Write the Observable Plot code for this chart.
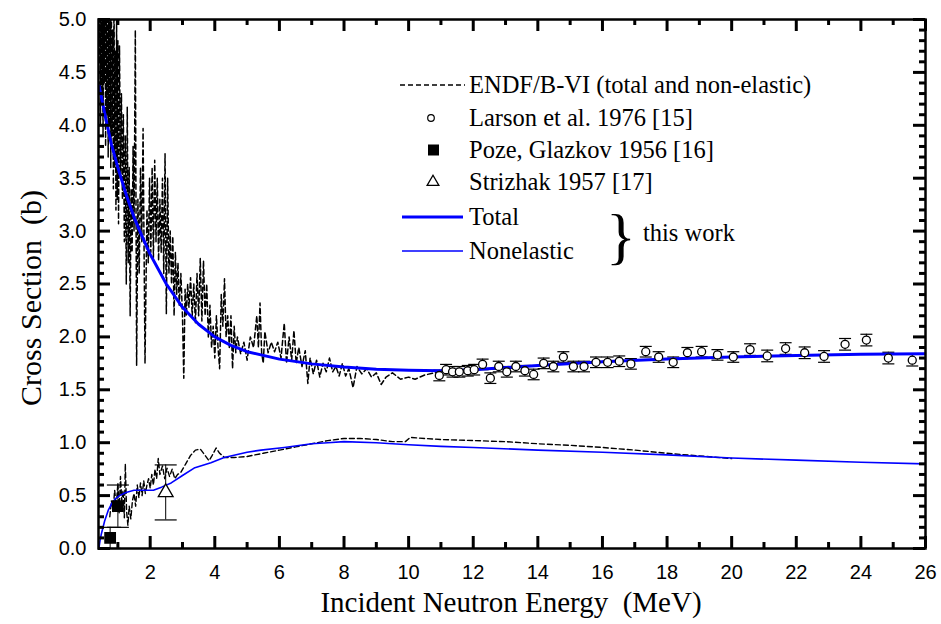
<!DOCTYPE html>
<html><head><meta charset="utf-8">
<script src="https://cdn.jsdelivr.net/npm/d3@7"></script>
<script src="https://cdn.jsdelivr.net/npm/@observablehq/plot@0.6"></script>
<style>body{margin:0;background:#fff}</style>
</head><body><div id="chart"></div>
<script>
// ---- axis ticks ----
const xMajor = [2,4,6,8,10,12,14,16,18,20,22,24,26];
const xMinor = [1,3,5,7,9,11,13,15,17,19,21,23,25];
const yMajor = [0,0.5,1,1.5,2,2.5,3,3.5,4,4.5,5];
const yMinor = [0.1,0.2,0.3,0.4,0.6,0.7,0.8,0.9,1.1,1.2,1.3,1.4,1.6,1.7,1.8,1.9,2.1,2.2,2.3,2.4,2.6,2.7,2.8,2.9,3.1,3.2,3.3,3.4,3.6,3.7,3.8,3.9,4.1,4.2,4.3,4.4,4.6,4.7,4.8,4.9];

// ---- ENDF/B-VI total (dashed) [E MeV, sigma b] ----
const endfTotal = [[0.42,4.6],[0.44,5.3],[0.46,4.0],[0.48,5.3],[0.50,4.3],[0.52,5.3],[0.54,3.9],[0.56,5.3],[0.58,4.4],[0.60,5.3],[0.62,3.8],[0.64,5.3],[0.66,4.1],[0.68,5.3],[0.70,3.7],[0.72,5.3],[0.74,4.0],[0.76,5.3],[0.78,3.6],[0.80,5.1],[0.82,3.9],[0.84,4.9],[0.86,3.4],[0.88,5.3],[0.90,3.6],[0.92,4.7],[0.94,3.2],[0.96,5.0],[0.98,3.3],[1.00,4.8],[1.02,3.07],[1.05,4.75],[1.08,3.5],[1.11,4.3],[1.14,3.3],[1.17,4.1],[1.20,2.9],[1.23,3.9],[1.26,2.5],[1.29,4.17],[1.32,2.7],[1.35,3.6],[1.38,2.2],[1.41,3.4],[1.44,2.8],[1.47,3.8],[1.50,3.0],[1.54,4.9],[1.58,1.73],[1.62,3.3],[1.66,2.6],[1.70,3.6],[1.74,2.9],[1.78,3.97],[1.84,1.75],[1.90,3.2],[1.94,2.7],[1.98,3.5],[2.02,2.8],[2.06,3.6],[2.10,2.75],[2.14,3.67],[2.18,2.9],[2.22,3.5],[2.26,2.72],[2.30,3.3],[2.34,2.8],[2.38,3.5],[2.42,2.6],[2.46,3.73],[2.50,2.22],[2.54,3.5],[2.58,2.6],[2.62,3.0],[2.66,2.5],[2.70,2.95],[2.74,2.2],[2.78,2.8],[2.82,2.4],[2.86,2.7],[2.90,2.3],[2.95,2.6],[3.00,2.2],[3.04,1.61],[3.08,2.45],[3.12,2.2],[3.16,2.5],[3.20,2.28],[3.25,2.56],[3.30,2.2],[3.35,2.5],[3.40,2.13],[3.45,2.6],[3.50,2.2],[3.55,2.74],[3.60,2.15],[3.65,2.72],[3.70,2.2],[3.75,2.5],[3.80,2.0],[3.85,2.3],[3.90,1.9],[3.95,2.1],[4.00,1.8],[4.05,2.2],[4.10,1.9],[4.15,1.70],[4.20,2.4],[4.25,2.1],[4.30,2.55],[4.35,2.0],[4.40,2.2],[4.45,1.9],[4.50,2.2],[4.55,1.7],[4.60,2.1],[4.65,1.85],[4.70,2.0],[4.80,1.84],[4.90,1.95],[5.00,1.78],[5.10,2.0],[5.20,1.9],[5.30,2.2],[5.35,1.9],[5.40,2.32],[5.45,1.85],[5.50,1.75],[5.55,2.05],[5.65,1.85],[5.75,1.95],[5.85,1.86],[5.95,1.95],[6.05,1.8],[6.15,2.13],[6.22,1.75],[6.30,2.0],[6.38,1.78],[6.45,2.06],[6.52,1.75],[6.60,1.9],[6.70,1.72],[6.80,1.87],[6.88,1.56],[6.95,1.8],[7.05,1.65],[7.15,1.78],[7.25,1.62],[7.35,1.75],[7.45,1.67],[7.55,1.8],[7.65,1.67],[7.75,1.72],[7.85,1.63],[7.95,1.75],[8.05,1.63],[8.15,1.70],[8.28,1.52],[8.40,1.72],[8.55,1.65],[8.70,1.70],[8.85,1.62],[9.00,1.66],[9.15,1.55],[9.30,1.62],[9.50,1.66],[9.75,1.60],[10.0,1.62],[10.2,1.60],[10.5,1.64],[10.8,1.66],[11.2,1.68],[12,1.69],[13,1.70],[14,1.73],[15,1.75],[16,1.77],[17,1.78],[18,1.79],[19,1.80],[20,1.81]];

// ---- ENDF/B-VI non-elastic (dashed) ----
const endfNonel = [[0.75,0.30],[0.80,0.45],[0.85,0.35],[0.90,0.55],[0.95,0.40],[1.00,0.62],[1.04,0.33],[1.08,0.68],[1.12,0.45],[1.16,0.55],[1.20,0.29],[1.23,0.80],[1.27,0.35],[1.31,0.22],[1.35,0.40],[1.40,0.28],[1.45,0.45],[1.50,0.52],[1.55,0.40],[1.60,0.60],[1.65,0.48],[1.70,0.62],[1.75,0.50],[1.80,0.64],[1.85,0.52],[1.90,0.60],[1.95,0.66],[2.00,0.57],[2.05,0.70],[2.10,0.60],[2.15,0.75],[2.20,0.66],[2.25,0.85],[2.30,0.70],[2.38,0.78],[2.45,0.66],[2.52,0.76],[2.60,0.68],[2.68,0.75],[2.76,0.66],[2.85,0.70],[2.95,0.72],[3.10,0.80],[3.25,0.88],[3.40,0.93],[3.55,0.94],[3.70,0.88],[3.82,0.83],[3.92,0.88],[4.04,0.95],[4.15,0.90],[4.30,0.86],[4.60,0.86],[5.00,0.87],[5.50,0.90],[6.00,0.93],[6.50,0.96],[7.00,0.99],[7.50,1.02],[8.00,1.04],[8.50,1.04],[9.00,1.03],[9.50,1.01],[9.90,1.01],[10.05,1.05],[10.5,1.04],[11,1.03],[12,1.02],[13,1.01],[14,0.99],[15,0.975],[16,0.955],[17,0.93],[18,0.90],[19,0.875],[20,0.85]];

// ---- this work ----
const workTotal = [[0.42,4.37],[0.6,4.1],[0.8,3.82],[1.0,3.6],[1.25,3.35],[1.5,3.13],[1.75,2.95],[2.0,2.78],[2.5,2.5],[3.0,2.28],[3.5,2.12],[4.0,2.0],[4.5,1.92],[5.0,1.86],[6.0,1.79],[7.0,1.745],[8.0,1.715],[9.0,1.695],[10.0,1.685],[11,1.68],[12,1.69],[14,1.73],[16,1.765],[18,1.79],[20,1.81],[22,1.825],[24,1.835],[26,1.84]];
const workNonel = [[0.41,0.0],[0.45,0.08],[0.49,0.14],[0.59,0.26],[0.70,0.36],[0.80,0.42],[0.92,0.47],[1.05,0.50],[1.25,0.53],[1.50,0.55],[1.80,0.55],[2.10,0.55],[2.35,0.58],[2.65,0.62],[3.0,0.69],[3.36,0.76],[3.88,0.81],[4.29,0.86],[5.0,0.91],[5.43,0.93],[6.15,0.955],[7.0,0.99],[7.5,1.0],[8.0,1.01],[9.0,1.0],[10.0,0.98],[11,0.965],[12,0.955],[14,0.93],[16,0.91],[18,0.885],[20,0.855],[22,0.835],[24,0.815],[26,0.80]];

// ---- experiments: [E, sigma, error] ----
const larson = [[10.95,1.635,0.05],[11.16,1.69,0.05],[11.36,1.67,0.05],[11.57,1.67,0.05],[11.83,1.68,0.05],[12.03,1.69,0.05],[12.29,1.74,0.05],[12.53,1.61,0.05],[12.79,1.72,0.05],[13.04,1.67,0.05],[13.32,1.72,0.05],[13.6,1.68,0.05],[13.87,1.645,0.05],[14.18,1.75,0.05],[14.48,1.72,0.05],[14.79,1.81,0.05],[15.1,1.72,0.05],[15.43,1.72,0.05],[15.8,1.76,0.05],[16.16,1.76,0.05],[16.52,1.77,0.05],[16.88,1.745,0.05],[17.34,1.86,0.05],[17.74,1.81,0.05],[18.19,1.76,0.05],[18.63,1.85,0.05],[19.07,1.86,0.05],[19.56,1.83,0.05],[20.05,1.81,0.05],[20.57,1.88,0.055],[21.1,1.82,0.055],[21.67,1.89,0.055],[22.26,1.85,0.055],[22.86,1.815,0.055],[23.51,1.93,0.055],[24.17,1.97,0.055],[24.85,1.80,0.055],[25.59,1.78,0.055]];
const poze = [[0.76,0.10,0.10],[1.0,0.40,0.20]];
const strizhak = [[2.48,0.53,0.26]];

const legendLabels = ["ENDF/B-VI (total and non-elastic)","Larson et al. 1976 [15]","Poze, Glazkov 1956 [16]","Strizhak 1957 [17]","Total","Nonelastic"];
const braceLabel = "this work";
const xTitle = "Incident Neutron Energy  (MeV)";
const yTitle = "Cross Section  (b)";

const BLUE = "#0000ff";
const W = 941, H = 624, ML = 98, MR = 16, MT = 19, MB = 76;
const PW = W - ML - MR, PH = H - MT - MB;
const MAJ = 12, MIN = 6;
const rad = size => Math.sqrt(size / Math.PI);
const cap = {draw(ctx, size){ const w = rad(size); ctx.moveTo(-w,0); ctx.lineTo(w,0); }};
const E = d => d[0], V = d => d[1];
const lo = d => Math.max(0, d[1]-d[2]), hi = d => d[1]+d[2];
const tk = {stroke: "#000", strokeWidth: 3};

const chart = Plot.plot({
  width: W, height: H,
  marginLeft: ML, marginRight: MR, marginTop: MT, marginBottom: MB,
  x: {domain: [0.4, 26]},
  y: {domain: [0, 5]},
  style: {fontFamily: "'Liberation Sans', Arial, sans-serif", fontSize: "20px", background: "#fff", color: "#000"},
  marks: [
    Plot.line(endfTotal, {x: E, y: V, stroke: "#000", strokeWidth: 1.5, strokeDasharray: "5,3", clip: true}),
    Plot.line(endfNonel, {x: E, y: V, stroke: "#000", strokeWidth: 1.4, strokeDasharray: "5,3", clip: true}),
    Plot.ruleX(larson, {x: E, y1: lo, y2: hi, stroke: "#000", strokeWidth: 1}),
    Plot.dot(larson, {x: E, y: lo, symbol: cap, r: 6, stroke: "#000", strokeWidth: 1.2}),
    Plot.dot(larson, {x: E, y: hi, symbol: cap, r: 6, stroke: "#000", strokeWidth: 1.2}),
    Plot.ruleX(poze, {x: E, y1: lo, y2: hi, stroke: "#000", strokeWidth: 1}),
    Plot.dot(poze, {x: E, y: hi, symbol: cap, r: 11, stroke: "#000", strokeWidth: 1.2}),
    Plot.dot(poze, {x: E, y: lo, symbol: cap, r: 11, stroke: "#000", strokeWidth: 1.2}),
    Plot.ruleX(strizhak, {x: E, y1: lo, y2: hi, stroke: "#000", strokeWidth: 1}),
    Plot.dot(strizhak, {x: E, y: hi, symbol: cap, r: 11, stroke: "#000", strokeWidth: 1.2}),
    Plot.dot(strizhak, {x: E, y: lo, symbol: cap, r: 11, stroke: "#000", strokeWidth: 1.2}),
    Plot.line(workNonel, {x: E, y: V, stroke: BLUE, strokeWidth: 1.6, clip: true}),
    Plot.line(workTotal, {x: E, y: V, stroke: BLUE, strokeWidth: 3, clip: true}),
    Plot.dot(larson, {x: E, y: V, r: 4, stroke: "#000", fill: "#fff", strokeWidth: 1.3}),
    Plot.dot(poze, {x: E, y: V, symbol: "square", r: 5.8, fill: "#000", stroke: "#000"}),
    Plot.dot(strizhak, {x: E, y: V, symbol: "triangle", r: 5.5, fill: "#fff", stroke: "#000", strokeWidth: 1.3}),
    // inward ticks on all four sides (full-frame rules shortened by insets)
    Plot.ruleX(xMajor, {x: d => d, insetTop: PH - MAJ, ...tk}),
    Plot.ruleX(xMinor, {x: d => d, insetTop: PH - MIN, ...tk}),
    Plot.ruleX(xMajor, {x: d => d, insetBottom: PH - MAJ, ...tk}),
    Plot.ruleX(xMinor, {x: d => d, insetBottom: PH - MIN, ...tk}),
    Plot.ruleY(yMajor, {y: d => d, insetRight: PW - MAJ, ...tk}),
    Plot.ruleY(yMinor, {y: d => d, insetRight: PW - MIN, ...tk}),
    Plot.ruleY(yMajor, {y: d => d, insetLeft: PW - MAJ, ...tk}),
    Plot.ruleY(yMinor, {y: d => d, insetLeft: PW - MIN, ...tk}),
    Plot.axisX(xMajor, {anchor: "bottom", tickSize: 0, tickPadding: 16, label: null, tickFormat: d => String(d)}),
    Plot.axisY(yMajor, {anchor: "left", tickSize: 0, tickPadding: 12, label: null, tickFormat: d3.format(".1f")}),
    Plot.frame({stroke: "#000", strokeWidth: 2.5})
  ]
});
document.getElementById("chart").appendChild(chart);

// ---- titles and legend ----
const svg = d3.select(chart);
const serif = "'Liberation Serif', 'Times New Roman', serif";
svg.append("text").attr("x", 511).attr("y", 612)
  .style("text-anchor", "middle").style("font-family", serif).style("font-size", "29px").style("fill", "#000").text(xTitle);
svg.append("text").attr("transform", "translate(41,298) rotate(-90)")
  .style("text-anchor", "middle").style("font-family", serif).style("font-size", "30px").style("fill", "#000").text(yTitle);

const lg = svg.append("g");
const rowY = [85, 118, 150, 182, 217, 251];
const txt = (x, y, s, size) => lg.append("text").attr("x", x).attr("y", y)
  .style("text-anchor", "start").style("font-family", serif).style("font-size", size + "px").style("fill", "#000").text(s);
legendLabels.forEach((t, i) => txt(469, rowY[i] + 8, t, 24.5));
lg.append("line").attr("x1", 400).attr("x2", 465).attr("y1", rowY[0]).attr("y2", rowY[0])
  .attr("stroke", "#000").attr("stroke-width", 1.4).attr("stroke-dasharray", "5,3");
lg.append("circle").attr("cx", 431).attr("cy", rowY[1]).attr("r", 3.3).attr("fill", "#fff").attr("stroke", "#000").attr("stroke-width", 1.2);
lg.append("rect").attr("x", 428).attr("y", rowY[2] - 5.5).attr("width", 11).attr("height", 11).attr("fill", "#000");
lg.append("path").attr("d", d3.symbol(d3.symbolTriangle, 60)()).attr("transform", `translate(433,${rowY[3]})`)
  .attr("fill", "#fff").attr("stroke", "#000").attr("stroke-width", 1.3);
lg.append("line").attr("x1", 402).attr("x2", 463).attr("y1", rowY[4]).attr("y2", rowY[4]).attr("stroke", BLUE).attr("stroke-width", 3);
lg.append("line").attr("x1", 402).attr("x2", 463).attr("y1", rowY[5]).attr("y2", rowY[5]).attr("stroke", BLUE).attr("stroke-width", 1.6);
txt(606, 257, "}", 62);
txt(643, 241, braceLabel, 24.5);
</script>
</body></html>
